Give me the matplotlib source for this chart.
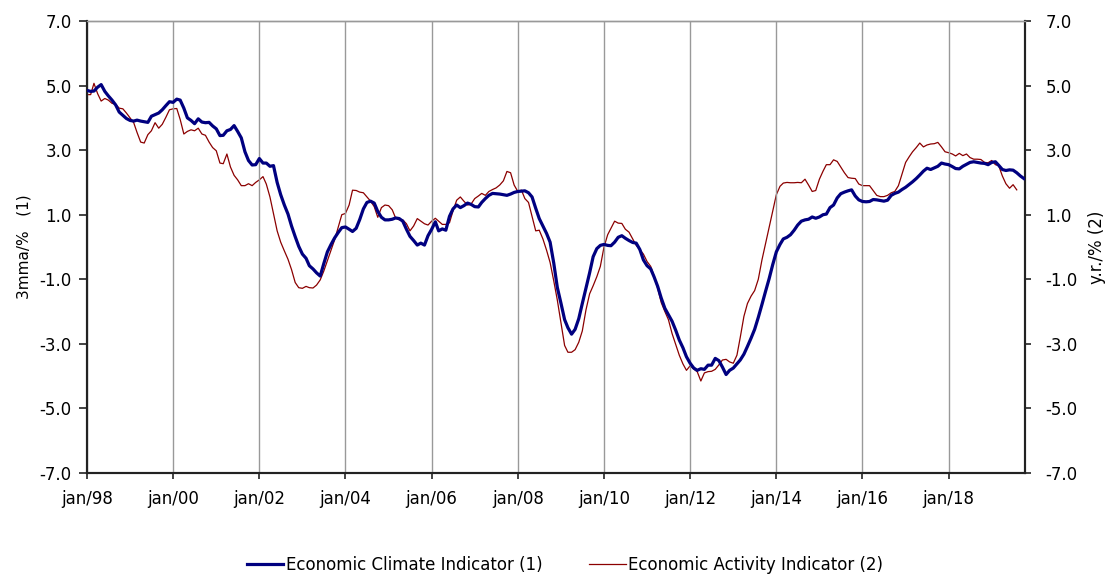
import matplotlib
matplotlib.use("Agg")
import matplotlib.pyplot as plt
import pandas as pd

plt.rcParams['font.family'] = ['DejaVu Sans']
plt.rcParams['axes.unicode_minus'] = False

# Economic Climate Indicator (1), 3mma/%, monthly from Jan 1998
climate_1998 = [4.85, 4.82, 4.83, 4.95, 5.03, 4.82, 4.68, 4.55, 4.40, 4.18, 4.08, 3.98]
climate_1999 = [3.92, 3.90, 3.93, 3.90, 3.88, 3.86, 4.05, 4.10, 4.15, 4.25, 4.38, 4.50]
climate_2000 = [4.48, 4.58, 4.55, 4.30, 4.00, 3.92, 3.82, 3.97, 3.87, 3.85, 3.86, 3.75]
climate_2001 = [3.66, 3.45, 3.46, 3.60, 3.64, 3.76, 3.58, 3.38, 2.95, 2.68, 2.54, 2.55]
climate_2002 = [2.74, 2.60, 2.60, 2.50, 2.52, 2.00, 1.62, 1.30, 1.02, 0.65, 0.32, 0.02]
climate_2003 = [-0.22, -0.35, -0.58, -0.68, -0.80, -0.90, -0.52, -0.15, 0.08, 0.28, 0.45, 0.60]
climate_2004 = [0.62, 0.55, 0.48, 0.58, 0.85, 1.18, 1.38, 1.42, 1.36, 1.10, 0.92, 0.84]
climate_2005 = [0.84, 0.86, 0.90, 0.88, 0.80, 0.55, 0.33, 0.20, 0.06, 0.12, 0.06, 0.35]
climate_2006 = [0.55, 0.78, 0.50, 0.56, 0.52, 0.95, 1.18, 1.30, 1.22, 1.28, 1.36, 1.32]
climate_2007 = [1.25, 1.24, 1.38, 1.50, 1.60, 1.66, 1.65, 1.64, 1.62, 1.60, 1.64, 1.69]
climate_2008 = [1.72, 1.73, 1.74, 1.68, 1.55, 1.20, 0.88, 0.65, 0.42, 0.15, -0.50, -1.25]
climate_2009 = [-1.74, -2.25, -2.50, -2.70, -2.55, -2.22, -1.75, -1.28, -0.80, -0.30, -0.05, 0.05]
climate_2010 = [0.08, 0.05, 0.04, 0.15, 0.30, 0.35, 0.27, 0.20, 0.14, 0.12, -0.08, -0.40]
climate_2011 = [-0.58, -0.68, -0.92, -1.22, -1.58, -1.90, -2.10, -2.30, -2.58, -2.88, -3.12, -3.40]
climate_2012 = [-3.60, -3.75, -3.82, -3.77, -3.79, -3.66, -3.66, -3.45, -3.52, -3.72, -3.95, -3.82]
climate_2013 = [-3.75, -3.62, -3.50, -3.32, -3.08, -2.82, -2.55, -2.18, -1.78, -1.38, -0.98, -0.55]
climate_2014 = [-0.15, 0.08, 0.25, 0.30, 0.38, 0.52, 0.68, 0.80, 0.84, 0.86, 0.93, 0.89]
climate_2015 = [0.93, 1.00, 1.02, 1.22, 1.30, 1.52, 1.65, 1.70, 1.74, 1.77, 1.58, 1.46]
climate_2016 = [1.41, 1.40, 1.41, 1.47, 1.46, 1.44, 1.42, 1.45, 1.60, 1.66, 1.70, 1.78]
climate_2017 = [1.85, 1.94, 2.02, 2.12, 2.23, 2.35, 2.44, 2.40, 2.45, 2.50, 2.60, 2.57]
climate_2018 = [2.55, 2.49, 2.43, 2.42, 2.50, 2.56, 2.62, 2.64, 2.62, 2.60, 2.59, 2.55]
climate_2019 = [2.62, 2.64, 2.53, 2.40, 2.37, 2.39, 2.38, 2.30, 2.20, 2.12]

# Economic Activity Indicator (2), y.r./%, monthly from Jan 1998
activity_1998 = [4.72, 4.72, 5.07, 4.75, 4.52, 4.60, 4.55, 4.45, 4.42, 4.30, 4.28, 4.15]
activity_1999 = [4.00, 3.85, 3.55, 3.25, 3.22, 3.48, 3.60, 3.85, 3.68, 3.80, 4.02, 4.25]
activity_2000 = [4.28, 4.29, 3.95, 3.50, 3.58, 3.63, 3.60, 3.68, 3.50, 3.46, 3.25, 3.08]
activity_2001 = [2.98, 2.60, 2.58, 2.88, 2.48, 2.22, 2.08, 1.90, 1.90, 1.96, 1.90, 2.00]
activity_2002 = [2.08, 2.18, 1.95, 1.55, 1.04, 0.50, 0.15, -0.12, -0.38, -0.70, -1.10, -1.26]
activity_2003 = [-1.28, -1.22, -1.26, -1.27, -1.18, -1.02, -0.75, -0.42, -0.08, 0.22, 0.62, 1.00]
activity_2004 = [1.04, 1.30, 1.76, 1.75, 1.70, 1.68, 1.55, 1.42, 1.25, 0.92, 1.22, 1.30]
activity_2005 = [1.28, 1.15, 0.90, 0.84, 0.84, 0.72, 0.50, 0.65, 0.88, 0.80, 0.72, 0.68]
activity_2006 = [0.80, 0.89, 0.80, 0.70, 0.70, 0.75, 1.12, 1.45, 1.55, 1.42, 1.30, 1.33]
activity_2007 = [1.50, 1.58, 1.66, 1.60, 1.72, 1.78, 1.83, 1.92, 2.05, 2.34, 2.30, 1.92]
activity_2008 = [1.72, 1.76, 1.50, 1.38, 0.95, 0.50, 0.52, 0.25, -0.10, -0.48, -1.05, -1.64]
activity_2009 = [-2.35, -3.05, -3.26, -3.26, -3.18, -2.95, -2.60, -1.95, -1.45, -1.20, -0.92, -0.60]
activity_2010 = [0.00, 0.38, 0.58, 0.80, 0.74, 0.73, 0.55, 0.46, 0.25, 0.05, -0.08, -0.22]
activity_2011 = [-0.45, -0.60, -0.90, -1.28, -1.72, -2.00, -2.25, -2.68, -3.02, -3.35, -3.62, -3.82]
activity_2012 = [-3.68, -3.78, -3.86, -4.15, -3.90, -3.86, -3.85, -3.79, -3.65, -3.50, -3.48, -3.56]
activity_2013 = [-3.60, -3.35, -2.80, -2.15, -1.75, -1.52, -1.35, -1.00, -0.40, 0.10, 0.62, 1.12]
activity_2014 = [1.62, 1.88, 1.98, 2.00, 1.99, 1.99, 2.00, 1.99, 2.10, 1.92, 1.72, 1.75]
activity_2015 = [2.10, 2.35, 2.55, 2.55, 2.70, 2.65, 2.48, 2.30, 2.15, 2.13, 2.12, 1.95]
activity_2016 = [1.90, 1.90, 1.90, 1.75, 1.60, 1.56, 1.56, 1.60, 1.68, 1.72, 1.90, 2.25]
activity_2017 = [2.62, 2.80, 2.95, 3.08, 3.22, 3.10, 3.16, 3.19, 3.20, 3.24, 3.10, 2.95]
activity_2018 = [2.92, 2.88, 2.82, 2.90, 2.83, 2.88, 2.77, 2.72, 2.72, 2.71, 2.62, 2.61]
activity_2019 = [2.68, 2.55, 2.52, 2.20, 1.96, 1.82, 1.93, 1.77]

climate = sum([climate_1998, climate_1999, climate_2000, climate_2001, climate_2002,
               climate_2003, climate_2004, climate_2005, climate_2006, climate_2007,
               climate_2008, climate_2009, climate_2010, climate_2011, climate_2012,
               climate_2013, climate_2014, climate_2015, climate_2016, climate_2017,
               climate_2018, climate_2019], [])
activity = sum([activity_1998, activity_1999, activity_2000, activity_2001, activity_2002,
                activity_2003, activity_2004, activity_2005, activity_2006, activity_2007,
                activity_2008, activity_2009, activity_2010, activity_2011, activity_2012,
                activity_2013, activity_2014, activity_2015, activity_2016, activity_2017,
                activity_2018, activity_2019], [])

dates_climate = pd.date_range("1998-01-01", periods=len(climate), freq="MS")
dates_activity = pd.date_range("1998-01-01", periods=len(activity), freq="MS")

tick_years = list(range(1998, 2019, 2))
tick_labels = ["jan/%02d" % (y % 100) for y in tick_years]
y_ticks = [-7.0, -5.0, -3.0, -1.0, 1.0, 3.0, 5.0, 7.0]

BLUE = "#000080"
RED = "#8B0000"

fig = plt.figure(figsize=(11.13, 5.74), dpi=100)
ax = fig.add_axes([87/1113, 1-473/574, (1025-87)/1113, (473-21)/574])
ax2 = ax.twinx()

l1, = ax.plot(dates_climate, climate, color=BLUE, lw=2.3, zorder=3,
              label="Economic Climate Indicator (1)")
l2, = ax2.plot(dates_activity, activity, color=RED, lw=0.9, zorder=2,
               label="Economic Activity Indicator (2)")
ax.set_zorder(ax2.get_zorder() + 1)
ax.patch.set_visible(False)

for a in (ax, ax2):
    a.set_ylim(-7, 7)
    a.set_yticks(y_ticks)
    a.set_yticklabels(["%.1f" % v for v in y_ticks])

ax.set_xlim(pd.Timestamp("1998-01-01"), pd.Timestamp("2019-10-10"))
ax.set_xticks([pd.Timestamp("%d-01-01" % y) for y in tick_years])
ax.set_xticklabels(tick_labels)
ax.grid(axis="x", color="#999999", lw=1.0)

ax.tick_params(axis="x", labelsize=12, direction="out", length=4.3, width=1.2,
               pad=8, colors="#222222", labelcolor="black")
ax.tick_params(axis="y", labelsize=12, direction="out", length=6, width=1.2,
               pad=5, colors="#222222", labelcolor="black")
ax2.tick_params(axis="y", labelsize=12, direction="out", length=4.3, width=1.2,
                pad=10.5, colors="#222222", labelcolor="black")

for a in (ax, ax2):
    a.spines["top"].set_color("#999999")
    a.spines["top"].set_linewidth(1.0)
    for s in ("left", "bottom", "right"):
        a.spines[s].set_color("#222222")
        a.spines[s].set_linewidth(1.5)

ax.set_ylabel("3mma/%   (1)", fontsize=11)
ax.yaxis.set_label_coords((32-87)/938, 0.5)
ax2.set_ylabel("y.r./% (2)", fontsize=12, rotation=90)
ax2.yaxis.set_label_coords((1088-87)/938, 0.5)

fig.legend(handles=[l1, l2], loc="center", bbox_to_anchor=(565/1113, 1-565/574),
           ncol=2, frameon=False, fontsize=12, handlelength=2.2, handletextpad=0.15,
           columnspacing=2.8)

fig.savefig("out.png", dpi=100)
